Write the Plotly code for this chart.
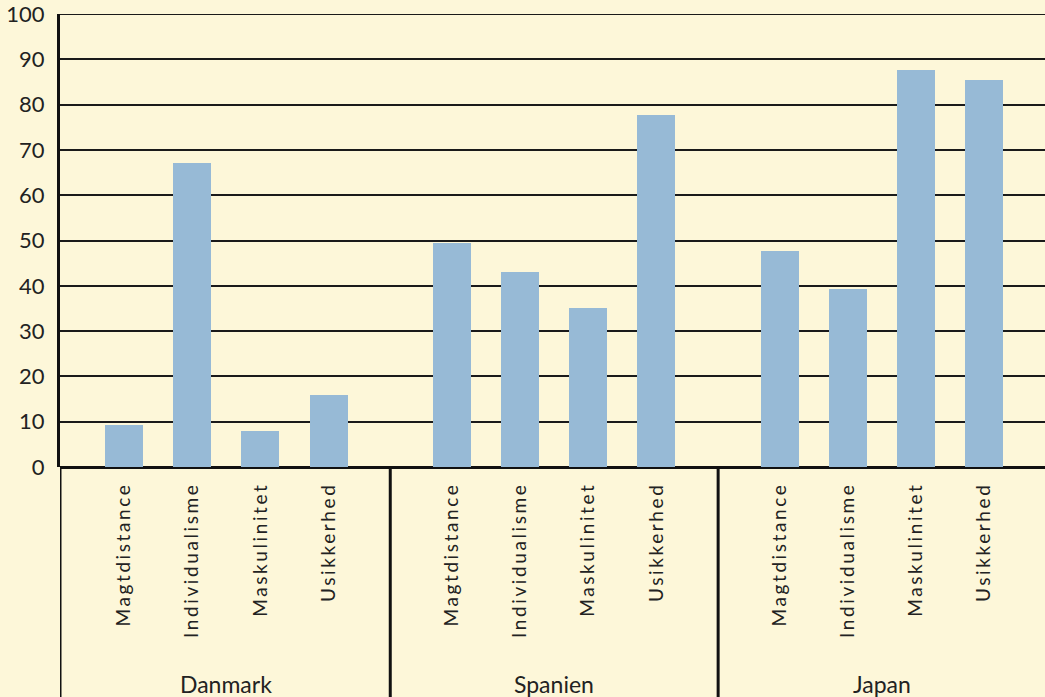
import plotly.graph_objects as go

countries = ["Danmark", "Spanien", "Japan"]
dimensions = ["Magtdistance", "Individualisme", "Maskulinitet", "Usikkerhed"]
danmark = [9.2, 67, 8, 16]
spanien = [49.4, 43, 35, 77.7]
japan = [47.7, 39.3, 87.6, 85.4]
y_ticks = list(range(0, 101, 10))

values = [danmark, spanien, japan]

BG = "#FDF7D9"
BAR = "#97BAD6"
FONT = "Lato"
TXT = "#222222"

pad = 0.94
group_w = 4.81

xs, ys, tickvals, ticktext = [], [], [], []
for g, vals in enumerate(values):
    for i, v in enumerate(vals):
        x = g * group_w + pad + i
        xs.append(x)
        ys.append(v)
        tickvals.append(x)
        ticktext.append(dimensions[i])

fig = go.Figure()
fig.add_trace(go.Bar(x=xs, y=ys, width=0.557, marker=dict(color=BAR, line=dict(width=0)),
                     hoverinfo="skip"))

total = len(countries) * group_w + 0.02

shapes = []
for g in range(len(countries)):
    xd = 0 if g == 0 else g * group_w + pad - (group_w - 3) / 2
    shapes.append(dict(type="line", xref="x", yref="paper", x0=xd, x1=xd,
                       y0=0, y1=-0.6, line=dict(color="#111111", width=3)))
# top line at 100
shapes.append(dict(type="line", xref="paper", yref="y", x0=0, x1=1, y0=100, y1=100,
                   line=dict(color="#1a1a1a", width=2)))

annotations = []
for g, c in enumerate(countries):
    annotations.append(dict(x=g * group_w + pad + 1.5, xref="x", y=-0.479, yref="paper",
                            text=c, showarrow=False, yanchor="middle",
                            font=dict(family=FONT, size=23, color=TXT)))

fig.update_layout(
    width=1045, height=697,
    margin=dict(l=60, r=0, t=14, b=230),
    paper_bgcolor=BG, plot_bgcolor=BG,
    showlegend=False,
    shapes=shapes,
    annotations=annotations,
    bargap=0,
)
fig.update_xaxes(range=[0, total], tickvals=tickvals, ticktext=ticktext, tickangle=-90,
                 showgrid=False, zeroline=False, showline=False,
                 ticks="outside", ticklen=7, tickcolor="rgba(0,0,0,0)",
                 tickfont=dict(family=FONT, size=19, color=TXT))
fig.update_yaxes(range=[0, 100], tickvals=y_ticks, showgrid=True, gridcolor="#1a1a1a", gridwidth=2,
                 zeroline=True, zerolinecolor="#111111", zerolinewidth=3,
                 showline=True, linecolor="#111111", linewidth=3,
                 ticks="outside", ticklen=8, tickcolor="rgba(0,0,0,0)",
                 ticklabeloverflow="allow",
                 tickfont=dict(family=FONT, size=22, color=TXT))

post = """
document.body.style.margin = '0';
document.querySelectorAll('.xtick text').forEach(function (t) { t.style.letterSpacing = '2.6px'; });
"""

fig.write_html("out.html", post_script=post, config={"displayModeBar": False})
